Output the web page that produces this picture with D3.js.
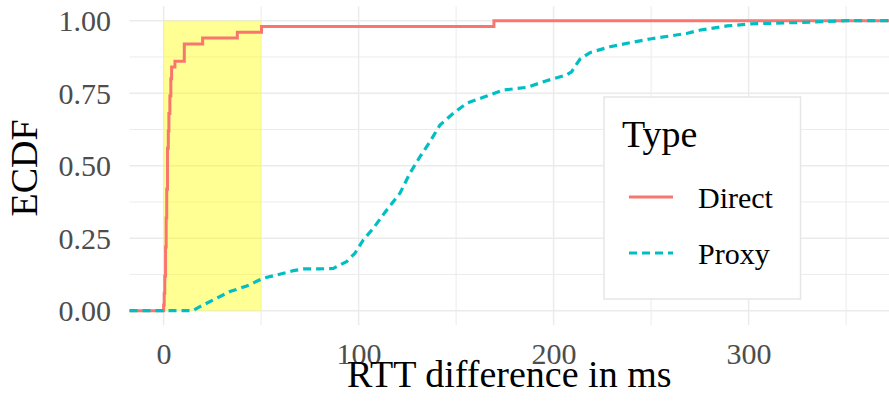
<!DOCTYPE html>
<html>
<head>
<meta charset="utf-8">
<script src="https://cdn.jsdelivr.net/npm/d3@7"></script>
<style>
  html, body { margin: 0; padding: 0; background: #fff; }
  svg { display: block; font-family: "Liberation Serif", "DejaVu Serif", serif; }
</style>
</head>
<body>
<svg id="chart" width="889" height="409"></svg>
<script>
// Series names and colours
const seriesNames = ['Direct', 'Proxy'];
const seriesColors = ['#F8766D', '#00BFC4'];

// Direct: ECDF step points (value holds from x until the next x)
const directX = [-17.5, 0, 0.3, 0.6, 1.0, 1.3, 1.6, 2.0, 2.4, 2.7, 3.2, 3.7, 4.1, 5.8, 10.6, 20.0, 37.8, 50.2, 169.4, 372];
const directY = [0, 0.02, 0.06, 0.12, 0.22, 0.32, 0.42, 0.56, 0.62, 0.68, 0.74, 0.80, 0.84, 0.86, 0.92, 0.94, 0.96, 0.98, 1.0, 1.0];

// Proxy: ECDF
const proxyX = [-17.5, 15, 18.6, 25.4, 34, 42.6, 51.1, 58, 66.5, 72, 80, 87, 93.8, 98.1, 102.4, 107.5, 114.4, 121.2,
  126.3, 131.5, 136.6, 141.7, 148.6, 155.4, 163.9, 174.2, 186.2, 196.4, 206.7, 209.2, 213.5, 218.6, 228.9, 239.1,
  249.4, 268.2, 275.3, 289, 301, 326.7, 350, 372];
const proxyY = [0, 0, 0.014, 0.037, 0.066, 0.085, 0.112, 0.123, 0.138, 0.144, 0.144, 0.146, 0.169, 0.198, 0.244, 0.284, 0.347, 0.405,
  0.474, 0.531, 0.583, 0.640, 0.681, 0.715, 0.736, 0.761, 0.770, 0.793, 0.813, 0.824, 0.867, 0.890, 0.910, 0.924,
  0.937, 0.956, 0.968, 0.982, 0.989, 0.994, 1.0, 1.0];

// Highlighted region and ticks
const highlight = [0, 50];
const xTicks = [0, 100, 200, 300];
const xMinor = [50, 150, 250, 350];
const yTicks = [0, 0.25, 0.5, 0.75, 1];
const yMinor = [0.125, 0.375, 0.625, 0.875];

const svg = d3.select('#chart');
const pL = 129.5, pR = 889, pT = 6.2, pB = 325.2;

const x = d3.scaleLinear().domain([-17.5, 372]).range([pL, pR]);
const y = d3.scaleLinear().domain([-0.05, 1.05]).range([pB, pT]);

// Grid
const grid = svg.append('g');
grid.selectAll('.vmin').data(xMinor).enter().append('line')
  .attr('x1', d => x(d)).attr('x2', d => x(d)).attr('y1', pT).attr('y2', pB)
  .attr('stroke', '#EBEBEB').attr('stroke-width', 1);
grid.selectAll('.hmin').data(yMinor).enter().append('line')
  .attr('x1', pL).attr('x2', pR).attr('y1', d => y(d)).attr('y2', d => y(d))
  .attr('stroke', '#EBEBEB').attr('stroke-width', 1);
grid.selectAll('.vmaj').data(xTicks).enter().append('line')
  .attr('x1', d => x(d)).attr('x2', d => x(d)).attr('y1', pT).attr('y2', pB)
  .attr('stroke', '#EBEBEB').attr('stroke-width', 1.5);
grid.selectAll('.hmaj').data(yTicks).enter().append('line')
  .attr('x1', pL).attr('x2', pR).attr('y1', d => y(d)).attr('y2', d => y(d))
  .attr('stroke', '#EBEBEB').attr('stroke-width', 1.5);

// Highlight rectangle
svg.append('rect')
  .attr('x', x(highlight[0])).attr('width', x(highlight[1]) - x(highlight[0]))
  .attr('y', y(1)).attr('height', y(0) - y(1))
  .attr('fill', '#FFFF00').attr('fill-opacity', 0.42);

// Lines
const directData = directX.map((v, i) => [v, directY[i]]);
const proxyData = proxyX.map((v, i) => [v, proxyY[i]]);

svg.append('path')
  .datum(directData)
  .attr('d', d3.line().x(d => x(d[0])).y(d => y(d[1])).curve(d3.curveStepAfter))
  .attr('fill', 'none').attr('stroke', seriesColors[0]).attr('stroke-width', 3);

svg.append('path')
  .datum(proxyData)
  .attr('d', d3.line().x(d => x(d[0])).y(d => y(d[1])))
  .attr('fill', 'none').attr('stroke', seriesColors[1]).attr('stroke-width', 3.2)
  .attr('stroke-dasharray', '8,5');

// Axes (labels only)
const xAxis = svg.append('g').attr('transform', `translate(0,${pB})`)
  .call(d3.axisBottom(x).tickValues(xTicks).tickSize(0).tickPadding(0).tickFormat(d3.format('d')));
xAxis.select('.domain').remove();
xAxis.selectAll('text')
  .attr('y', 38.5).attr('dy', null)
  .attr('fill', '#4D4D4D').style('font-size', '30px').style('font-family', '"Liberation Serif", serif');

const yAxis = svg.append('g').attr('transform', `translate(${pL},0)`)
  .call(d3.axisLeft(y).tickValues(yTicks).tickSize(0).tickPadding(0).tickFormat(d3.format('.2f')));
yAxis.select('.domain').remove();
yAxis.selectAll('text')
  .attr('x', -18.5).attr('dy', '0.33em')
  .attr('fill', '#4D4D4D').style('font-size', '30px').style('font-family', '"Liberation Serif", serif');

// Axis titles
svg.append('text')
  .attr('x', (pL + pR) / 2).attr('y', 387)
  .attr('text-anchor', 'middle').style('font-size', '38px').attr('fill', '#000')
  .text('RTT difference in ms');

svg.append('text')
  .attr('transform', 'translate(36.5,168) rotate(-90)')
  .attr('text-anchor', 'middle').style('font-size', '38px').attr('fill', '#000')
  .text('ECDF');

// Legend
const lg = svg.append('g');
lg.append('rect')
  .attr('x', 604).attr('y', 97).attr('width', 196.5).attr('height', 202)
  .attr('fill', '#fff').attr('stroke', '#E6E6E6').attr('stroke-width', 1.5);
lg.append('text')
  .attr('x', 622).attr('y', 147).style('font-size', '38px').attr('fill', '#000')
  .text('Type');
const items = lg.selectAll('.item').data(seriesNames).enter().append('g')
  .attr('transform', (d, i) => `translate(0,${197 + i * 56})`);
items.append('line')
  .attr('x1', 629).attr('x2', 673).attr('y1', 0).attr('y2', 0)
  .attr('stroke', (d, i) => seriesColors[i]).attr('stroke-width', 3)
  .attr('stroke-dasharray', (d, i) => i === 1 ? '8,5' : null);
items.append('text')
  .attr('x', 698).attr('y', 10.5).style('font-size', '30px').attr('fill', '#000')
  .text(d => d);
</script>
</body>
</html>
